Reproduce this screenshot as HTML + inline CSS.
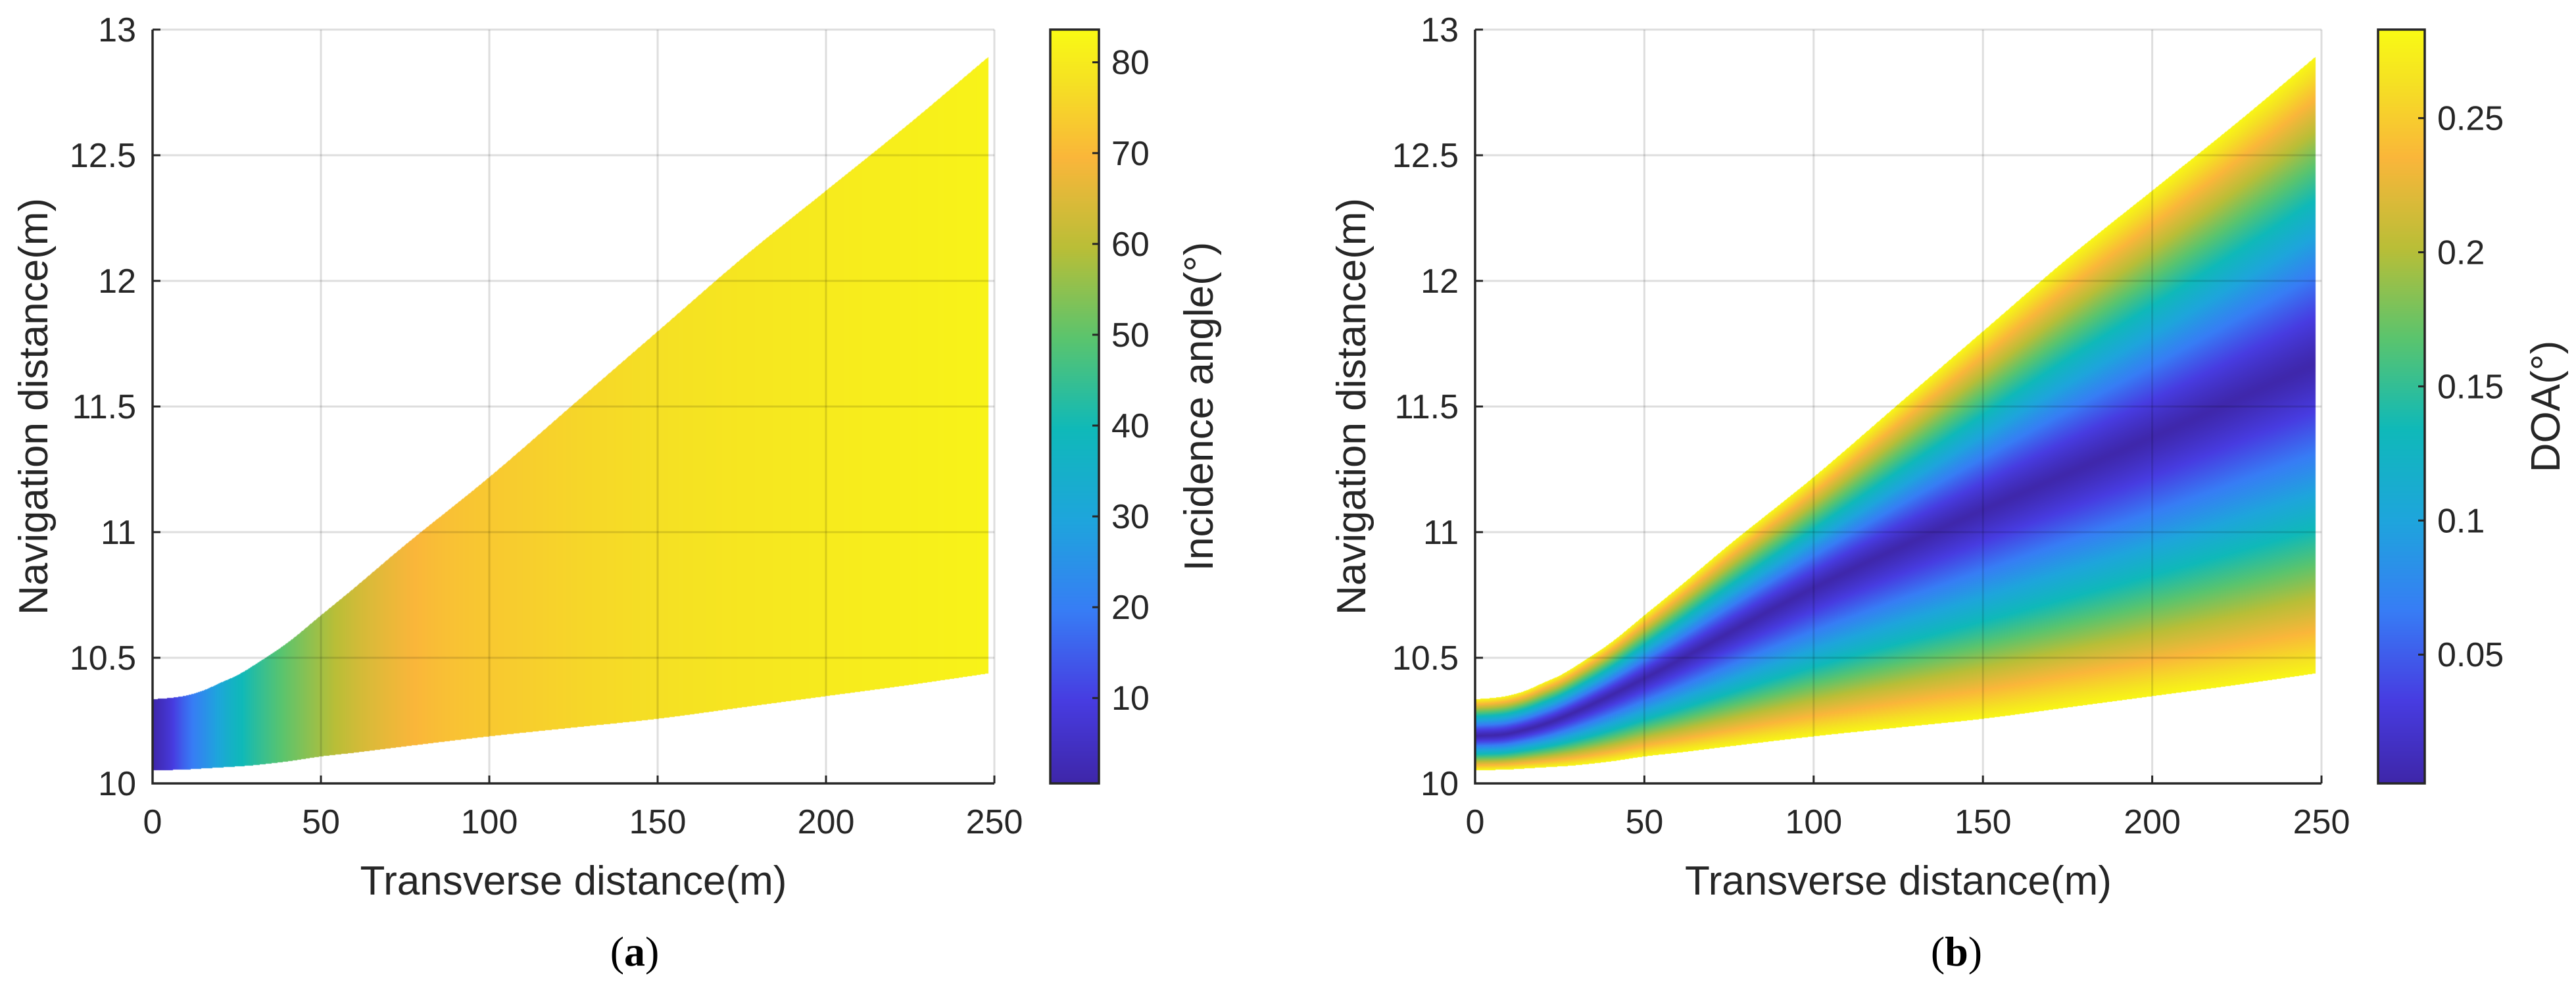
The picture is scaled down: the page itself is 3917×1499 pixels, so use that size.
<!DOCTYPE html>
<html><head><meta charset="utf-8">
<style>
html,body{margin:0;padding:0;background:#fff;}
body{width:3917px;height:1499px;position:relative;overflow:hidden;font-family:"Liberation Sans",Arial,sans-serif;}
canvas{position:absolute;left:0;top:0;}
svg{position:absolute;left:0;top:0;}
</style></head>
<body>
<canvas id="cv" width="3917" height="1499"></canvas>
<svg id="sv" width="3917" height="1499"></svg>
<script>
// ---- data ----
const xTicks = [0,50,100,150,200,250];
const yTicks = [10,10.5,11,11.5,12,12.5,13];
const yTickLabels = ["10","10.5","11","11.5","12","12.5","13"];
const boundX = [0,5,10,15,20,25,30,40,50,60,75,100,125,150,175,200,225,248];
const upperY = [10.335,10.34,10.35,10.37,10.40,10.43,10.47,10.56,10.67,10.78,10.95,11.22,11.51,11.8,12.09,12.36,12.63,12.89];
const lowerY = [10.055,10.056,10.058,10.062,10.066,10.07,10.075,10.09,10.11,10.125,10.15,10.19,10.225,10.26,10.305,10.35,10.395,10.44];
const angleX = [0,5,10,18,25,35,45,55,65,80,100,150,200,248];
const angleV = [1,8,17,28,38,47,54,60,65,70,73,77.5,80,82];
const centerX = [0,10,25,50,100,150,200,248];
const centerY = [10.19,10.2,10.26,10.42,10.78,11.09,11.38,11.67];
const cbTicksA = [10,20,30,40,50,60,70,80];
const cbTicksB = [0.05,0.1,0.15,0.2,0.25];
const cbTickLabelsB = ["0.05","0.1","0.15","0.2","0.25"];
const cbRangeA = [0.6,83.6];
const cbRangeB = [0.002,0.283];

// ---- layout ----
const panels = [
 {L:232,R:1512,T:45,B:1191,cbL:1597,cbR:1671,ytr:207,ytitleX:50,cbLabX:1822,cbTitle:"Incidence angle(°)",cap:"(a)",capX:965,cbTickX:1690},
 {L:2243,R:3530,T:45,B:1191,cbL:3616,cbR:3687,ytr:2218,ytitleX:2054,cbLabX:3870,cbTitle:"DOA(°)",cap:"(b)",capX:2975,cbTickX:3706}
];
const cmPos=[0,0.11,0.23,0.35,0.47,0.59,0.71,0.83,0.93,1];
const cmCol=[[62,38,168],[71,60,225],[55,125,245],[30,165,220],[15,185,185],[90,196,110],[185,190,55],[250,182,58],[245,225,35],[249,250,20]];
function cmap(t){t=Math.max(0,Math.min(1,t));let i=1;while(i<cmPos.length-1&&t>cmPos[i])i++;const u=(t-cmPos[i-1])/(cmPos[i]-cmPos[i-1]);const a=cmCol[i-1],b=cmCol[i];return [0,1,2].map(k=>Math.round(a[k]+(b[k]-a[k])*u));}
function interp(xs,ys,x){const n=xs.length;if(x<=xs[0])return ys[0];if(x>=xs[n-1])return ys[n-1];
 let i=1;while(x>xs[i])i++;const x0=xs[i-1],x1=xs[i],u=(x-x0)/(x1-x0);
 const y0=ys[i-1],y1=ys[i];
 const m0=i>1?(ys[i]-ys[i-2])/(xs[i]-xs[i-2])*(x1-x0):(y1-y0);
 const m1=i<n-1?(ys[i+1]-ys[i-1])/(xs[i+1]-xs[i-1])*(x1-x0):(y1-y0);
 const u2=u*u,u3=u2*u;
 return (2*u3-3*u2+1)*y0+(u3-2*u2+u)*m0+(-2*u3+3*u2)*y1+(u3-u2)*m1;}

const cv=document.getElementById('cv');const ctx=cv.getContext('2d');
ctx.fillStyle='#fff';ctx.fillRect(0,0,3917,1499);
const img=ctx.getImageData(0,0,3917,1499);const d=img.data;
panels.forEach((p,pi)=>{
 const sx=v=>p.L+v/250*(p.R-p.L);
 const sy=v=>p.B-(v-10)/3*(p.B-p.T);
 const xmax=boundX[boundX.length-1];
 for(let px=Math.round(sx(0));px<=Math.round(sx(xmax));px++){
  const xv=(px-p.L)/(p.R-p.L)*250;
  const up=interp(boundX,upperY,xv),lo=interp(boundX,lowerY,xv);
  const c=interp(centerX,centerY,xv);
  const ang=interp(angleX,angleV,xv);
  for(let py=Math.round(sy(up));py<=Math.round(sy(lo));py++){
   const yv=10+(p.B-py)/(p.B-p.T)*3;
   let t;
   if(pi===0){t=(ang-cbRangeA[0])/(cbRangeA[1]-cbRangeA[0]);}
   else{const half=yv>=c?(up-c):(c-lo);const fr=Math.min(1,Math.abs(yv-c)/half);const val=0.004+0.276*Math.pow(fr,1.2);t=(val-cbRangeB[0])/(cbRangeB[1]-cbRangeB[0]);}
   const col=cmap(t);const k=(py*3917+px)*4;d[k]=col[0];d[k+1]=col[1];d[k+2]=col[2];d[k+3]=255;
  }
 }
 for(let py=p.T;py<=p.B;py++){const t=(p.B-py)/(p.B-p.T);const col=cmap(t);for(let px=p.cbL;px<=p.cbR;px++){const k=(py*3917+px)*4;d[k]=col[0];d[k+1]=col[1];d[k+2]=col[2];d[k+3]=255;}}
});
ctx.putImageData(img,0,0);

const NS='http://www.w3.org/2000/svg';const sv=document.getElementById('sv');
function el(tag,attrs,parent){const e=document.createElementNS(NS,tag);for(const k in attrs)e.setAttribute(k,attrs[k]);(parent||sv).appendChild(e);return e;}
panels.forEach((p,pi)=>{
 const sx=v=>p.L+v/250*(p.R-p.L);
 const sy=v=>p.B-(v-10)/3*(p.B-p.T);
 const g=el('g',{});
 
 
 xTicks.forEach(v=>{const l=el('line',{x1:sx(v),x2:sx(v),y1:p.T,y2:p.B,stroke:'#000','stroke-opacity':0.13,'stroke-width':3},g);
  
  const tk=el('line',{x1:sx(v),x2:sx(v),y1:p.B,y2:p.B-12,stroke:'#262626','stroke-width':3},g);
  
  const t=el('text',{x:sx(v),y:p.B+76,'text-anchor':'middle','font-size':52,fill:'#262626'},g);t.textContent=String(v);
  });
 yTicks.forEach((v,i)=>{const l=el('line',{x1:p.L,x2:p.R,y1:sy(v),y2:sy(v),stroke:'#000','stroke-opacity':0.13,'stroke-width':3},g);
  
  const tk=el('line',{x1:p.L,x2:p.L+12,y1:sy(v),y2:sy(v),stroke:'#262626','stroke-width':3},g);
  
  const t=el('text',{x:p.ytr,y:sy(v)+18,'text-anchor':'end','font-size':52,fill:'#262626'},g);t.textContent=yTickLabels[i];
  });
 const ax=el('path',{d:`M${p.L} ${p.T}V${p.B}H${p.R}`,fill:'none',stroke:'#262626','stroke-width':3.5},g);
 
 const xt=el('text',{x:(p.L+p.R)/2,y:1360,'text-anchor':'middle','font-size':62,fill:'#262626'},g);xt.textContent='Transverse distance(m)';
 
 const yt=el('text',{x:0,y:0,'text-anchor':'middle','font-size':62,fill:'#262626',transform:`translate(${p.ytitleX+22},${(p.T+p.B)/2}) rotate(-90)`},g);yt.textContent='Navigation distance(m)';
 
 const cb=el('rect',{x:p.cbL,y:p.T,width:p.cbR-p.cbL,height:p.B-p.T,fill:'none',stroke:'#262626','stroke-width':3.5},g);
 
 const ticks=pi?cbTicksB:cbTicksA,rng=pi?cbRangeB:cbRangeA;
 ticks.forEach((v,i)=>{const y=p.B-(v-rng[0])/(rng[1]-rng[0])*(p.B-p.T);
  const tk=el('line',{x1:p.cbR-10,x2:p.cbR,y1:y,y2:y,stroke:'#262626','stroke-width':3},g);
  
  const t=el('text',{x:p.cbTickX,y:y+18,'font-size':52,fill:'#262626'},g);t.textContent=pi?cbTickLabelsB[i]:String(v);
  });
 const ct=el('text',{x:0,y:0,'text-anchor':'middle','font-size':62,fill:'#262626',transform:`translate(${p.cbLabX+22},${(p.T+p.B)/2}) rotate(-90)`},g);ct.textContent=p.cbTitle;
 
 const cap=el('text',{x:p.capX,y:1468,'text-anchor':'middle','font-size':64,'font-family':'Liberation Serif, serif',fill:'#000'},g);
 cap.innerHTML='(<tspan font-weight="bold">'+(pi?'b':'a')+'</tspan>)';
 
});
</script>
</body></html>
